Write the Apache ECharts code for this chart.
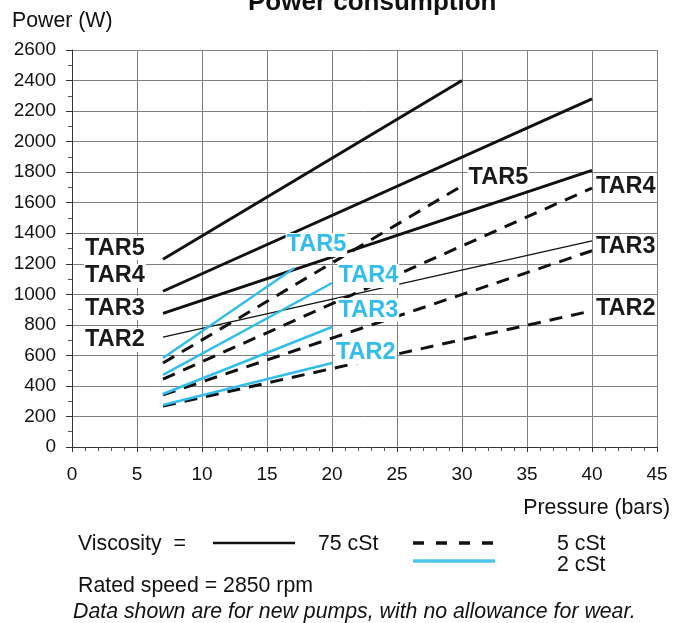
<!DOCTYPE html>
<html>
<head>
<meta charset="utf-8">
<script src="https://cdn.jsdelivr.net/npm/echarts@6/dist/echarts.min.js"></script>
<style>
  html, body { margin: 0; padding: 0; background: #fff; }
  #main { width: 686px; height: 623px; }
</style>
</head>
<body>
<div id="main"></div>
<script>
// pressure (bars) at start / end of each curve, power (W)
const solid75 = {
  TAR5: [[7, 1230], [30, 2400]],
  TAR4: [[7, 1020], [40, 2280]],
  TAR3: [[7, 875], [40, 1812]],
  TAR2: [[7, 720], [40, 1350]]
};
const dashed5 = {
  TAR5: [[7, 550], [30, 1710]],
  TAR4: [[7, 445], [40, 1696]],
  TAR3: [[7, 341], [40, 1285]],
  TAR2: [[7, 268], [40, 892]]
};
const blue2 = {
  TAR5: [[7, 583], [17.1, 1172]],
  TAR4: [[7, 472], [20, 1074]],
  TAR3: [[7, 347], [20, 786]],
  TAR2: [[7, 275], [20, 550]]
};
// label anchor points
const blackLabels = [
  ["TAR5", 3.3, 1303], ["TAR4", 3.3, 1120], ["TAR3", 3.3, 910], ["TAR2", 3.3, 701],
  ["TAR5", 32.8, 1762], ["TAR4", 42.6, 1709], ["TAR3", 42.6, 1316], ["TAR2", 42.6, 910]
];
const blueLabels = [
  ["TAR5", 18.8, 1323], ["TAR4", 22.8, 1120], ["TAR3", 22.8, 897], ["TAR2", 22.6, 622]
];

const font = "'Liberation Sans', Arial, sans-serif";
const blue = "#33bdec";
const chart = echarts.init(document.getElementById("main"));

let series = [];
Object.keys(solid75).forEach(function (k) {
  series.push({
    type: "line", data: solid75[k], symbol: "none", silent: true, z: 3,
    lineStyle: { color: "#111", width: k === "TAR2" ? 1.3 : 3 }
  });
});
Object.keys(dashed5).forEach(function (k) {
  series.push({
    type: "line", data: dashed5[k], symbol: "none", silent: true, z: 3,
    lineStyle: { color: "#111", width: 3, type: [13, 9] }
  });
});
Object.keys(blue2).forEach(function (k) {
  series.push({
    type: "line", data: blue2[k], symbol: "none", silent: true, z: 4,
    lineStyle: { color: blue, width: 2.5 }
  });
});

function labelSeries(arr, color) {
  return {
    type: "scatter", symbolSize: 0, silent: true, z: 6,
    itemStyle: { opacity: 1 },
    data: arr.map(function (d) { return { name: d[0], value: [d[1], d[2]] }; }),
    label: {
      show: true, position: "inside", formatter: "{b}", opacity: 1,
      fontFamily: font, fontWeight: "bold", fontSize: 23.5, color: color,
      backgroundColor: "#fff", padding: [0, 1]
    }
  };
}
series.push(labelSeries(blackLabels, "#1a1a1a"));
series.push(labelSeries(blueLabels, blue));

const txt = { fontFamily: font, fontSize: 21.3, fill: "#111" };

const option = {
  backgroundColor: "#fff",
  animation: false,
  grid: { left: 72, right: 29, top: 50, bottom: 176, containLabel: false },
  xAxis: {
    type: "value", min: 0, max: 45, interval: 5,
    axisLine: { show: true, onZero: false, lineStyle: { color: "#333", width: 1 } },
    axisTick: { show: true, length: 5, lineStyle: { color: "#333" } },
    minorTick: { show: true, splitNumber: 5, length: 4, lineStyle: { color: "#555" } },
    axisLabel: { fontFamily: font, fontSize: 19, color: "#111", margin: 18 },
    splitLine: { show: true, lineStyle: { color: "#808080", width: 1 } }
  },
  yAxis: {
    type: "value", min: 0, max: 2600, interval: 200,
    axisLine: { show: true, lineStyle: { color: "#333", width: 1 } },
    axisTick: { show: true, length: 6, lineStyle: { color: "#333" } },
    minorTick: { show: true, splitNumber: 2, length: 4, lineStyle: { color: "#555" } },
    axisLabel: { fontFamily: font, fontSize: 19, color: "#111", margin: 16, formatter: function (v) { return String(v); } },
    splitLine: { show: true, lineStyle: { color: "#808080", width: 1 } }
  },
  series: series,
  graphic: [
    { type: "text", left: 248, top: -10, style: Object.assign({}, txt, { text: "Power consumption", fontSize: 26, fontWeight: "bold" }) },
    { type: "text", left: 12, top: 11, style: Object.assign({}, txt, { text: "Power (W)" }) },
    { type: "text", right: 16, top: 498, style: Object.assign({}, txt, { text: "Pressure (bars)" }) },
    { type: "text", left: 78, top: 534, style: Object.assign({}, txt, { text: "Viscosity  =" }) },
    { type: "line", shape: { x1: 213, y1: 543, x2: 295, y2: 543 }, style: { stroke: "#111", lineWidth: 2.5 } },
    { type: "text", left: 318, top: 534, style: Object.assign({}, txt, { text: "75 cSt" }) },
    { type: "line", shape: { x1: 413, y1: 543, x2: 495, y2: 543 }, style: { stroke: "#111", lineWidth: 3.5, lineDash: [11, 12] } },
    { type: "line", shape: { x1: 413, y1: 561, x2: 495, y2: 561 }, style: { stroke: "#4cc4f0", lineWidth: 3.5 } },
    { type: "text", left: 557, top: 534, style: Object.assign({}, txt, { text: "5 cSt" }) },
    { type: "text", left: 557, top: 555, style: Object.assign({}, txt, { text: "2 cSt" }) },
    { type: "text", left: 78, top: 576, style: Object.assign({}, txt, { text: "Rated speed = 2850 rpm" }) },
    { type: "text", left: 73, top: 602, style: Object.assign({}, txt, { text: "Data shown are for new pumps, with no allowance for wear.", fontStyle: "italic" }) }
  ]
};
chart.setOption(option);
</script>
</body>
</html>
